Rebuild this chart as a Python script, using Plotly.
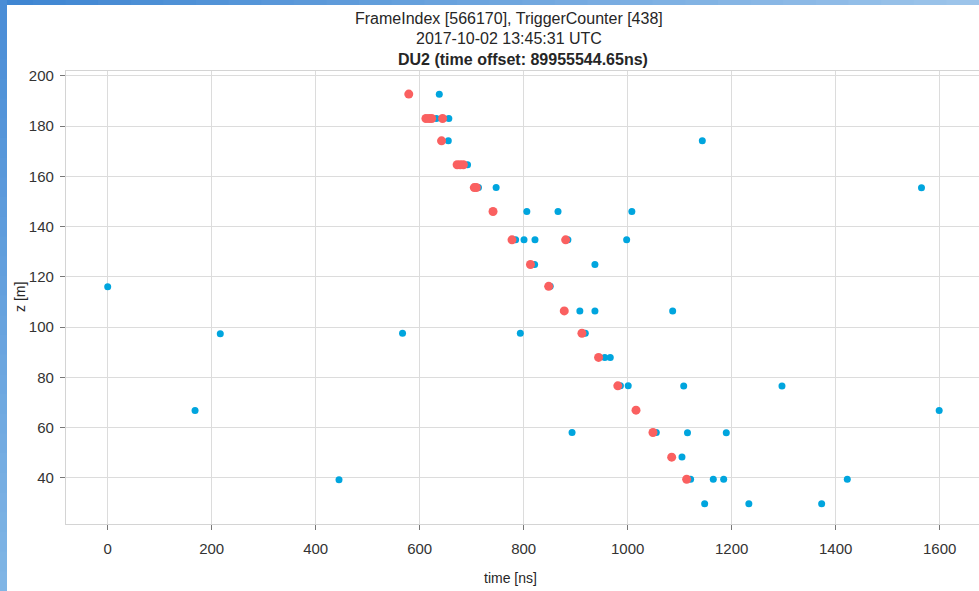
import plotly.graph_objects as go

# ---- data (time [ns], z [m]) ----
all_hits_time = [0, 168, 216.5, 444.8, 567, 637.7, 632, 656, 655, 692, 713, 747,
                 806, 866, 1008, 784.5, 800.6, 821.7, 885, 998, 821, 937, 851,
                 908, 937, 1086.5, 793.5, 918.5, 956, 966.5, 986, 1001, 1107.7,
                 1296.7, 893, 1055, 1115, 1189.6, 1104.4, 1121, 1164.6, 1184.6,
                 1422.3, 1148, 1233, 1373, 1143.5, 1565, 1599]
all_hits_z = [116.0, 66.8, 97.3, 39.2, 97.5, 192.6, 183.0, 183.0, 174.1, 164.6,
              155.5, 155.5, 146.0, 146.0, 146.0, 134.7, 134.7, 134.7, 134.7,
              134.7, 124.9, 124.9, 116.2, 106.4, 106.4, 106.4, 97.5, 97.5, 87.9,
              87.9, 76.6, 76.6, 76.5, 76.5, 58.0, 58.0, 57.9, 57.9, 48.3, 39.4,
              39.4, 39.4, 39.4, 29.7, 29.7, 29.7, 174.1, 155.4, 66.8]

triggered_time = [579, 612, 618, 623, 644, 642, 672, 678, 684, 705, 709, 741,
                  777.5, 880.7, 813, 848, 878, 912, 944, 981, 1016, 1048.6,
                  1084.6, 1113.4]
triggered_z = [192.7, 183.0, 183.0, 183.0, 183.0, 174.1, 164.6, 164.6, 164.6,
               155.5, 155.5, 146.0, 134.7, 134.7, 124.9, 116.2, 106.4, 97.5,
               87.9, 76.6, 66.9, 58.0, 48.2, 39.4]

x_ticks = [0, 200, 400, 600, 800, 1000, 1200, 1400, 1600]
y_ticks = [40, 60, 80, 100, 120, 140, 160, 180, 200]

suptitle_lines = ["FrameIndex [566170], TriggerCounter [438]", "2017-10-02 13:45:31 UTC"]
axes_title = "DU2 (time offset: 89955544.65ns)"
x_label = "time [ns]"
y_label = "z [m]"

# ---- layout geometry (pixels) ----
W, H = 979, 591
L, T, R, B = 66, 71, 0, 67
pw, ph = W - L - R, H - T - B


def px(x):
    return (x - L) / pw


def py(y):
    return (H - B - y) / ph


FONT = "Liberation Sans, Arial, sans-serif"
TXT = "#262626"

fig = go.Figure()
fig.add_trace(go.Scatter(x=all_hits_time, y=all_hits_z, mode="markers",
                         marker=dict(color="#00a5de", size=7, line=dict(width=0)),
                         showlegend=False))
fig.add_trace(go.Scatter(x=triggered_time, y=triggered_z, mode="markers",
                         marker=dict(color="#fa6060", size=9, line=dict(width=0)),
                         showlegend=False))

axis_common = dict(showgrid=True, gridcolor="#dcdcdc", gridwidth=1.4,
                   showline=True, linecolor="#d4d4d4", linewidth=1.2, mirror=True,
                   ticks="outside", ticklen=5, tickcolor="#777", tickwidth=1,
                   zeroline=False, tickfont=dict(family=FONT, size=15, color="#333"))

fig.update_xaxes(range=[-80.2, 1675.6], tickvals=x_ticks, ticktext=[str(v) for v in x_ticks],
                 ticklabelstandoff=6, **axis_common)
fig.update_yaxes(range=[21.6, 201.9], tickvals=y_ticks, ticktext=[str(v) for v in y_ticks],
                 ticklabelstandoff=3, **axis_common)

ann = []
ann.append(dict(text=suptitle_lines[0], x=px(509), y=py(18), xref="paper", yref="paper",
                showarrow=False, xanchor="center", yanchor="middle",
                font=dict(family=FONT, size=16, color=TXT)))
ann.append(dict(text=suptitle_lines[1], x=px(509), y=py(38), xref="paper", yref="paper",
                showarrow=False, xanchor="center", yanchor="middle",
                font=dict(family=FONT, size=16, color=TXT)))
ann.append(dict(text="<b>" + axes_title + "</b>", x=px(523), y=py(59), xref="paper", yref="paper",
                showarrow=False, xanchor="center", yanchor="middle",
                font=dict(family=FONT, size=16, color=TXT)))
ann.append(dict(text=x_label, x=px(510), y=py(578), xref="paper", yref="paper",
                showarrow=False, xanchor="center", yanchor="middle",
                font=dict(family=FONT, size=14, color=TXT)))
ann.append(dict(text=y_label, x=px(20), y=py(297), xref="paper", yref="paper",
                showarrow=False, xanchor="center", yanchor="middle", textangle=-90,
                font=dict(family=FONT, size=14, color=TXT)))


def mix(c0, c1, f):
    a = [int(c0[i:i + 2], 16) for i in (1, 3, 5)]
    b = [int(c1[i:i + 2], 16) for i in (1, 3, 5)]
    return "rgb(%d,%d,%d)" % tuple(round(a[k] + (b[k] - a[k]) * f) for k in range(3))


# window frame (blue border of the screenshot)
shapes = []
n = 30
for i in range(n):
    shapes.append(dict(type="rect", xref="paper", yref="paper", layer="above",
                       x0=px(W * i / n), x1=px(W * (i + 1) / n + 1), y0=py(5), y1=py(0),
                       fillcolor=mix("#3f86d2", "#9cc4ea", i / (n - 1)), line=dict(width=0)))
for i in range(n):
    shapes.append(dict(type="rect", xref="paper", yref="paper", layer="above",
                       x0=px(0), x1=px(7), y0=py(H * (i + 1) / n + 1), y1=py(H * i / n),
                       fillcolor=mix("#4a8dd6", "#80b5e5", i / (n - 1)), line=dict(width=0)))

fig.update_layout(width=W, height=H, margin=dict(l=L, r=R, t=T, b=B, autoexpand=False),
                  paper_bgcolor="white", plot_bgcolor="white",
                  annotations=ann, shapes=shapes,
                  font=dict(family=FONT, color=TXT))

fig.write_html("out.html", config={"displayModeBar": False},
               post_script="document.body.style.margin='0';document.body.style.overflow='hidden';")
